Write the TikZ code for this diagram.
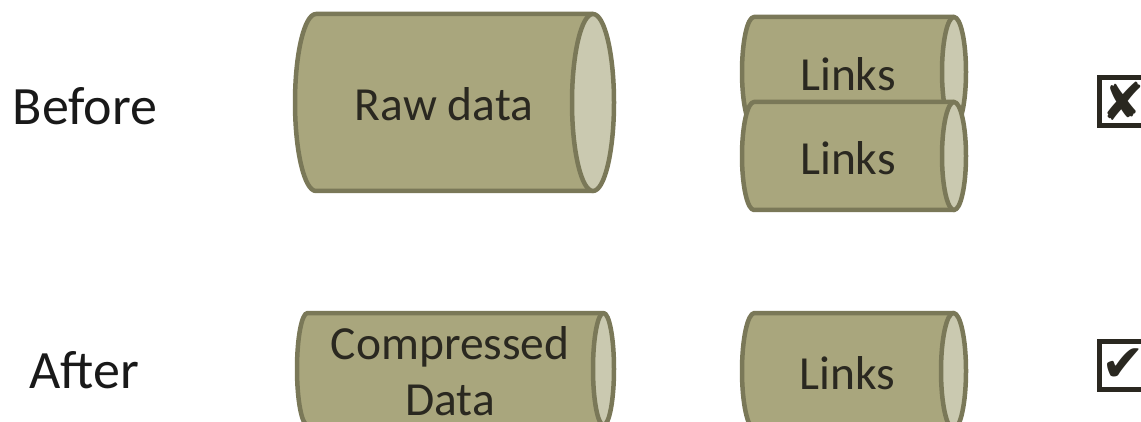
\documentclass[tikz,border=0pt]{standalone}
\usepackage{fontspec}
\setmainfont{Carlito}
\newfontfamily\symfont{DejaVu Sans}
\definecolor{tubeline}{HTML}{7A7858}
\definecolor{tubebody}{HTML}{A9A67D}
\definecolor{tubeend}{HTML}{CAC9B0}
\definecolor{ink}{HTML}{2A2820}
\tikzset{
  tubeedge/.style={draw=tubeline, line width=4.5pt, line join=round},
  tubetext/.style={text=ink, font=\fontsize{47.5}{56}\selectfont, align=center, inner sep=0pt},
  rowlabel/.style={text=black!90, font=\fontsize{54}{60}\selectfont},
  tickbox/.style={draw=ink, line width=5pt, minimum size=48pt, inner sep=0pt,
    text=ink, font=\symfont\fontsize{52}{54}\selectfont}
}
% \tube{name}{left}{top}{right}{bottom}{cap radius}{text}
\newcommand\tube[7]{%
  \filldraw[tubeedge, fill=tubebody] (#2+#6,#3) -- (#4-#6,#3) -- (#4-#6,#5) -- (#2+#6,#5)
    arc[start angle=90, end angle=270, x radius=#6, y radius={(#5-#3)/2}] -- cycle;
  \filldraw[tubeedge, fill=tubeend] (#4-#6,{(#3+#5)/2}) ellipse[x radius=#6, y radius={(#5-#3)/2}];
  \node[tubetext] (#1) at ({(#2+#4-#6)/2},{(#3+#5)/2+2}) {#7};
}
\begin{document}
\begin{tikzpicture}[x=1pt,y=-1pt]
\useasboundingbox (0,0) rectangle (1141,422);
\node[rowlabel] (before) at (85,106) {Before};
\node[rowlabel] (after) at (84,370) {After};
% upper row
\tube{raw}{295}{14}{614}{191}{21}{Raw data}
\tube{linksA}{742}{17}{966}{127}{12}{Links}
\tube{linksB}{742}{102}{966}{210}{12}{Links}
% lower row
\tube{packed}{297}{313}{614}{425}{10.5}{Compressed\\Data}
\tube{linksC}{742}{313}{966}{429}{12.5}{Links}
\node[tickbox] (fail) at (1123.5,101.5) {✘};
\node[tickbox] (pass) at (1123.5,365) {✔};
\end{tikzpicture}
\end{document}
